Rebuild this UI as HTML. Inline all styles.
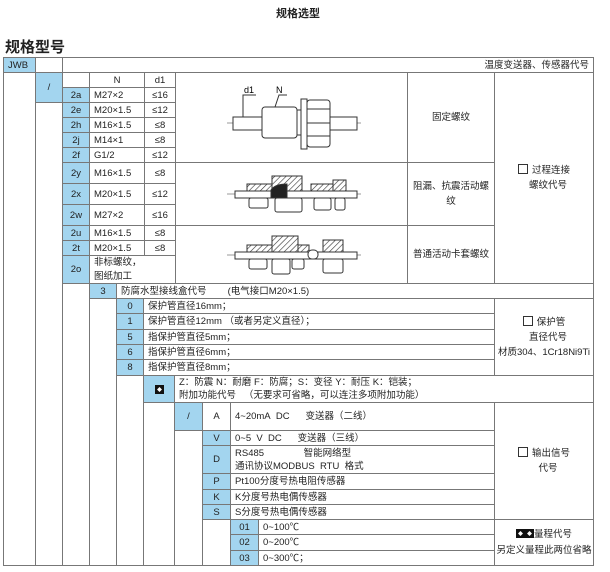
<!DOCTYPE html>
<html><head><meta charset="utf-8"><style>
body{margin:0;width:610px;height:572px;background:#fff;position:relative;overflow:hidden;font-family:"Liberation Sans","Noto Sans CJK SC",sans-serif;color:#222}
.c{position:absolute;box-sizing:border-box;border:1px solid #777;font-size:9.5px;line-height:13px;display:flex;align-items:center;padding-left:4px;white-space:nowrap}
.b{background:#a3d5ef;justify-content:center;padding:0}
.m{justify-content:center;padding:0;text-align:center}
.t{position:absolute;white-space:nowrap}
.ic{display:inline-block;width:9px;height:9px;background:#111;position:relative;vertical-align:-1px}
.ic:after{content:"";position:absolute;left:2px;top:2px;width:5px;height:5px;background:#fff;transform:rotate(45deg) scale(.7)}
.bx{display:inline-block;width:8px;height:8px;border:1px solid #333;vertical-align:-1px;margin-right:4px}
</style></head><body>
<div class="t" style="left:276px;top:5px;font-size:11px;font-weight:bold">规格选型</div>
<div class="t" style="left:5px;top:36px;font-size:15px;font-weight:bold">规格型号</div>

<!-- outer frame -->
<div class="c" style="left:3px;top:57px;width:591px;height:509px;padding:0"></div>
<div class="c b" style="left:3px;top:57px;width:33px;height:16px;justify-content:flex-start;padding-left:4px">JWB</div>
<div class="c" style="left:35px;top:57px;width:28px;height:509px;padding:0"></div>
<div class="c" style="left:62px;top:57px;width:532px;height:16px;justify-content:flex-end;padding-right:4px">温度变送器、传感器代号</div>
<div class="c b" style="left:35px;top:72px;width:28px;height:31px">/</div>

<!-- thread section -->
<div class="c" style="left:62px;top:72px;width:28px;height:16px"></div>
<div class="c m" style="left:89px;top:72px;width:56px;height:16px">N</div>
<div class="c m" style="left:144px;top:72px;width:32px;height:16px">d1</div>
<div class="c b" style="left:62px;top:87px;width:28px;height:16px">2a</div><div class="c" style="left:89px;top:87px;width:56px;height:16px">M27×2</div><div class="c m" style="left:144px;top:87px;width:32px;height:16px">≤16</div>
<div class="c b" style="left:62px;top:102px;width:28px;height:16px">2e</div><div class="c" style="left:89px;top:102px;width:56px;height:16px">M20×1.5</div><div class="c m" style="left:144px;top:102px;width:32px;height:16px">≤12</div>
<div class="c b" style="left:62px;top:117px;width:28px;height:16px">2h</div><div class="c" style="left:89px;top:117px;width:56px;height:16px">M16×1.5</div><div class="c m" style="left:144px;top:117px;width:32px;height:16px">≤8</div>
<div class="c b" style="left:62px;top:132px;width:28px;height:16px">2j</div><div class="c" style="left:89px;top:132px;width:56px;height:16px">M14×1</div><div class="c m" style="left:144px;top:132px;width:32px;height:16px">≤8</div>
<div class="c b" style="left:62px;top:147px;width:28px;height:16px">2f</div><div class="c" style="left:89px;top:147px;width:56px;height:16px">G1/2</div><div class="c m" style="left:144px;top:147px;width:32px;height:16px">≤12</div>
<div class="c b" style="left:62px;top:162px;width:28px;height:22px">2y</div><div class="c" style="left:89px;top:162px;width:56px;height:22px">M16×1.5</div><div class="c m" style="left:144px;top:162px;width:32px;height:22px">≤8</div>
<div class="c b" style="left:62px;top:183px;width:28px;height:22px">2x</div><div class="c" style="left:89px;top:183px;width:56px;height:22px">M20×1.5</div><div class="c m" style="left:144px;top:183px;width:32px;height:22px">≤12</div>
<div class="c b" style="left:62px;top:204px;width:28px;height:22px">2w</div><div class="c" style="left:89px;top:204px;width:56px;height:22px">M27×2</div><div class="c m" style="left:144px;top:204px;width:32px;height:22px">≤16</div>
<div class="c b" style="left:62px;top:225px;width:28px;height:16px">2u</div><div class="c" style="left:89px;top:225px;width:56px;height:16px">M16×1.5</div><div class="c m" style="left:144px;top:225px;width:32px;height:16px">≤8</div>
<div class="c b" style="left:62px;top:240px;width:28px;height:16px">2t</div><div class="c" style="left:89px;top:240px;width:56px;height:16px">M20×1.5</div><div class="c m" style="left:144px;top:240px;width:32px;height:16px">≤8</div>
<div class="c b" style="left:62px;top:255px;width:28px;height:29px">2o</div><div class="c" style="left:89px;top:255px;width:87px;height:29px;line-height:14px">非标螺纹，<br>图纸加工</div>

<div class="c" style="left:175px;top:72px;width:233px;height:91px"></div>
<div class="c" style="left:175px;top:162px;width:233px;height:64px"></div>
<div class="c" style="left:175px;top:225px;width:233px;height:59px"></div>
<div class="c m" style="left:407px;top:72px;width:88px;height:91px">固定螺纹</div>
<div class="c m" style="left:407px;top:162px;width:88px;height:64px;white-space:normal;line-height:15px;padding:0 3px">阻漏、抗震活动螺纹</div>
<div class="c m" style="left:407px;top:225px;width:88px;height:59px">普通活动卡套螺纹</div>
<div class="c m" style="left:494px;top:72px;width:100px;height:212px;line-height:15px"><div><span class="bx"></span>过程连接<br>&nbsp;&nbsp;&nbsp;螺纹代号</div></div>

<svg style="position:absolute;left:175px;top:72px" width="232" height="210" viewBox="0 0 232 210">
<defs><pattern id="h" width="4" height="4" patternUnits="userSpaceOnUse" patternTransform="rotate(45)"><line x1="0" y1="0" x2="0" y2="4" stroke="#333" stroke-width="1.2"/></pattern></defs>
<g fill="#fff" stroke="#333" stroke-width="1">
<line x1="52" y1="51" x2="186" y2="51" stroke-width=".6"/>
<rect x="58" y="45" width="124" height="13"/>
<rect x="87" y="35" width="35" height="31" rx="3"/>
<rect x="122" y="38" width="4" height="25"/>
<rect x="126" y="27" width="6" height="50"/>
<rect x="132" y="28" width="23" height="47" rx="3"/>
<line x1="132" y1="37" x2="155" y2="37"/><line x1="132" y1="51" x2="155" y2="51"/><line x1="132" y1="64" x2="155" y2="64"/>
<polyline fill="none" points="68,45 68,23 81,23"/><polyline fill="none" points="100,35 104,23 112,23"/>
</g>
<text x="69" y="21" font-size="9" font-family="Liberation Sans">d1</text>
<text x="101" y="21" font-size="9" font-family="Liberation Sans">N</text>
<g stroke="#333" stroke-width="1" fill="#fff">
<line x1="52" y1="122" x2="186" y2="122" stroke-width=".6"/>
<rect x="60" y="119" width="122" height="7"/>
<rect x="72" y="112" width="25" height="7" fill="url(#h)"/>
<rect x="74" y="126" width="19" height="10" rx="2"/>
<rect x="97" y="104" width="30" height="15" fill="url(#h)"/>
<path d="M96 118 Q100 112 112 112 L112 126 L96 126Z" fill="#222"/>
<rect x="100" y="126" width="27" height="14" rx="2"/>
<rect x="136" y="112" width="22" height="7" fill="url(#h)"/>
<rect x="158" y="108" width="13" height="11" fill="url(#h)"/>
<rect x="139" y="126" width="17" height="12" rx="2"/>
<rect x="160" y="126" width="10" height="12" rx="2"/>
<line x1="52" y1="183" x2="186" y2="183" stroke-width=".6"/>
<rect x="60" y="180" width="122" height="7"/>
<rect x="72" y="173" width="25" height="7" fill="url(#h)"/>
<rect x="97" y="164" width="26" height="16" fill="url(#h)"/>
<rect x="123" y="173" width="11" height="7" fill="url(#h)"/>
<rect x="74" y="187" width="18" height="10" rx="2"/>
<rect x="97" y="187" width="18" height="15" rx="2"/>
<rect x="117" y="187" width="12" height="10" rx="2"/>
<rect x="133" y="178" width="10" height="9" rx="4"/>
<rect x="148" y="168" width="20" height="12" fill="url(#h)"/>
<rect x="148" y="187" width="20" height="14" rx="2"/>
</g>
</svg>

<!-- row 3 -->
<div class="c b" style="left:89px;top:283px;width:28px;height:16px">3</div>
<div class="c" style="left:116px;top:283px;width:478px;height:16px">防腐水型接线盒代号&nbsp;&nbsp;&nbsp;&nbsp;&nbsp;&nbsp;&nbsp;&nbsp;(电气接口M20×1.5)</div>
<div class="c" style="left:89px;top:283px;width:28px;height:283px;padding:0"></div>

<div class="c b" style="left:116px;top:298px;width:28px;height:16px">0</div><div class="c" style="left:143px;top:298px;width:352px;height:16px">保护管直径16mm；</div>
<div class="c b" style="left:116px;top:313px;width:28px;height:17px">1</div><div class="c" style="left:143px;top:313px;width:352px;height:17px">保护管直径12mm （或者另定义直径）；</div>
<div class="c b" style="left:116px;top:329px;width:28px;height:16px">5</div><div class="c" style="left:143px;top:329px;width:352px;height:16px">指保护管直径5mm；</div>
<div class="c b" style="left:116px;top:344px;width:28px;height:16px">6</div><div class="c" style="left:143px;top:344px;width:352px;height:16px">指保护管直径6mm；</div>
<div class="c b" style="left:116px;top:359px;width:28px;height:17px">8</div><div class="c" style="left:143px;top:359px;width:352px;height:17px">指保护管直径8mm；</div>
<div class="c m" style="left:494px;top:298px;width:100px;height:78px;line-height:15px"><div><span class="bx"></span>保护管<br>&nbsp;&nbsp;&nbsp;直径代号<br>材质304、1Cr18Ni9Ti</div></div>
<div class="c" style="left:116px;top:375px;width:28px;height:191px;padding:0"></div>

<div class="c b" style="left:143px;top:375px;width:32px;height:28px"><span class="ic"></span></div>
<div class="c" style="left:174px;top:375px;width:420px;height:28px;line-height:13px;align-items:center"><div>Z：防震 N：耐磨 F：防腐；S：变径 Y：耐压 K：铠装；<br>附加功能代号&nbsp;&nbsp;&nbsp;（无要求可省略，可以连注多项附加功能）</div></div>
<div class="c" style="left:143px;top:402px;width:32px;height:164px;padding:0"></div>

<div class="c b" style="left:174px;top:402px;width:29px;height:29px">/</div>
<div class="c m" style="left:202px;top:402px;width:29px;height:29px">A</div>
<div class="c" style="left:230px;top:402px;width:265px;height:29px">4~20mA&nbsp; DC&nbsp;&nbsp;&nbsp;&nbsp;&nbsp; 变送器（二线）</div>
<div class="c" style="left:174px;top:430px;width:29px;height:136px;padding:0"></div>
<div class="c b" style="left:202px;top:430px;width:29px;height:16px">V</div><div class="c" style="left:230px;top:430px;width:265px;height:16px">0~5&nbsp; V&nbsp; DC&nbsp;&nbsp;&nbsp;&nbsp;&nbsp; 变送器（三线）</div>
<div class="c b" style="left:202px;top:445px;width:29px;height:29px">D</div><div class="c" style="left:230px;top:445px;width:265px;height:29px"><div>RS485&nbsp;&nbsp;&nbsp;&nbsp;&nbsp;&nbsp;&nbsp;&nbsp;&nbsp;&nbsp;&nbsp;&nbsp;&nbsp;&nbsp; 智能网络型<br>通讯协议MODBUS&nbsp; RTU&nbsp; 格式</div></div>
<div class="c b" style="left:202px;top:473px;width:29px;height:17px">P</div><div class="c" style="left:230px;top:473px;width:265px;height:17px">Pt100分度号热电阻传感器</div>
<div class="c b" style="left:202px;top:489px;width:29px;height:16px">K</div><div class="c" style="left:230px;top:489px;width:265px;height:16px">K分度号热电偶传感器</div>
<div class="c b" style="left:202px;top:504px;width:29px;height:16px">S</div><div class="c" style="left:230px;top:504px;width:265px;height:16px">S分度号热电偶传感器</div>
<div class="c m" style="left:494px;top:402px;width:100px;height:118px;line-height:15px"><div><span class="bx"></span>输出信号<br>&nbsp;&nbsp;&nbsp;代号</div></div>
<div class="c" style="left:202px;top:519px;width:29px;height:47px;padding:0"></div>

<div class="c b" style="left:230px;top:519px;width:29px;height:16px">01</div><div class="c" style="left:258px;top:519px;width:237px;height:16px">0~100℃</div>
<div class="c b" style="left:230px;top:534px;width:29px;height:17px">02</div><div class="c" style="left:258px;top:534px;width:237px;height:17px">0~200℃</div>
<div class="c b" style="left:230px;top:550px;width:29px;height:16px">03</div><div class="c" style="left:258px;top:550px;width:237px;height:16px">0~300℃；</div>
<div class="c m" style="left:494px;top:519px;width:100px;height:47px;line-height:16px"><div><span class="ic"></span><span class="ic"></span>量程代号<br>另定义量程此两位省略</div></div>
</body></html>
